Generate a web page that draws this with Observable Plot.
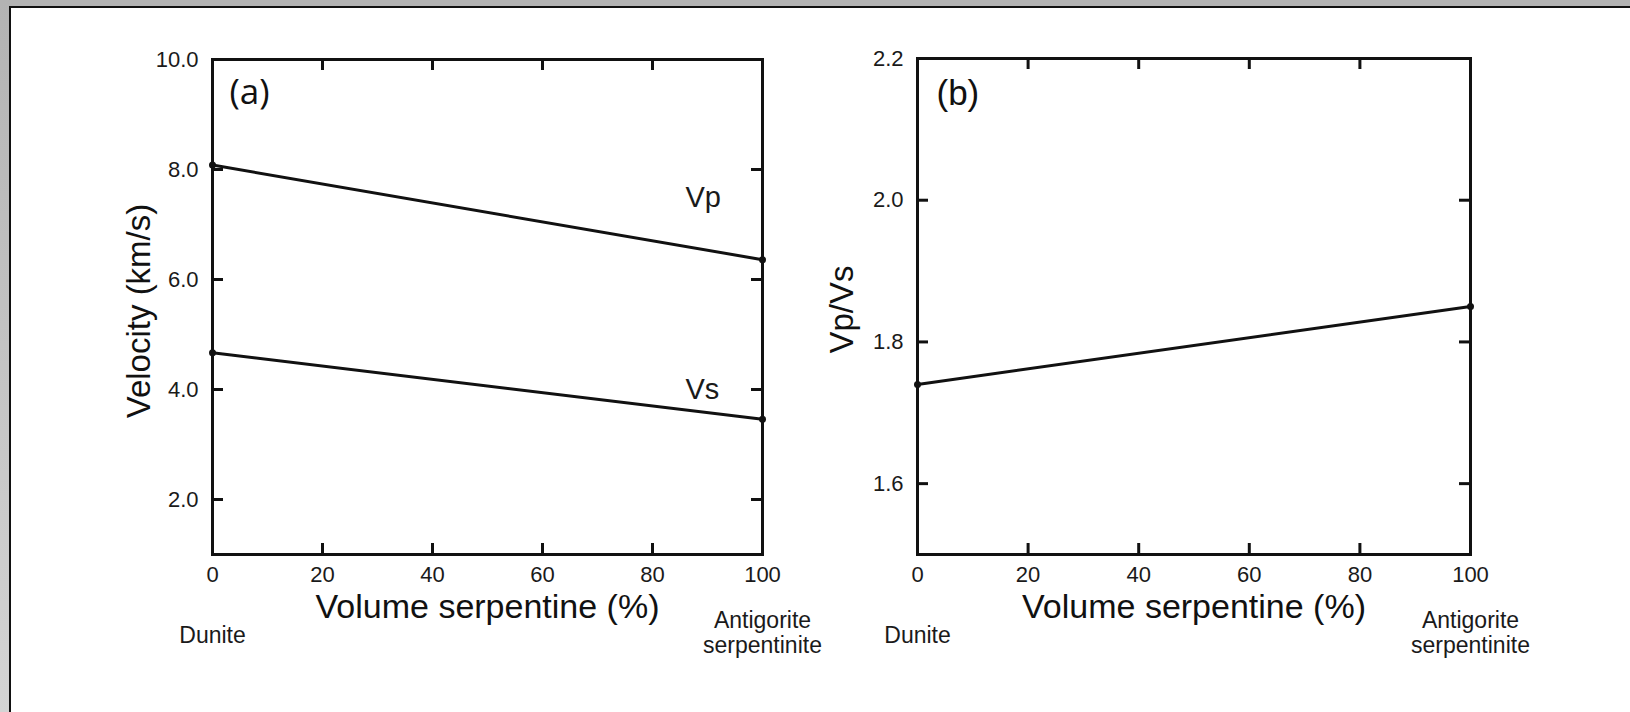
<!DOCTYPE html>
<html>
<head>
<meta charset="utf-8">
<script src="https://cdn.jsdelivr.net/npm/d3@7"></script>
<script src="https://cdn.jsdelivr.net/npm/@observablehq/plot@0.6"></script>
<style>
  html, body { margin: 0; padding: 0; width: 1630px; height: 712px; overflow: hidden; background: #fff; }
  #top { position: absolute; left: 0; top: 0; width: 1630px; height: 6px; background: #b3b3b3; }
  #strip { position: absolute; left: 0; top: 0; width: 9px; height: 712px; background: linear-gradient(#b3b3b3, #d4d4d4); }
  #hline { position: absolute; left: 9px; top: 6px; width: 1621px; height: 2px; background: #111; }
  #vline { position: absolute; left: 9px; top: 6px; width: 2px; height: 706px; background: #111; }
  #a, #b { position: absolute; top: 0; }
  #a { left: 0; }
  #b { left: 800px; }
</style>
</head>
<body>
<div id="top"></div>
<div id="strip"></div>
<div id="hline"></div>
<div id="vline"></div>
<div id="a"></div>
<div id="b"></div>
<script>
// ---- data ----
const serpentine = [0, 100];               // Volume serpentine (%)
const vp = [8.08, 6.36];                   // km/s
const vs = [4.67, 3.46];                   // km/s
const vpvs = [1.74, 1.85];                 // ratio
const xTickLabels = [0, 20, 40, 60, 80, 100];
const xInnerTicks = [20, 40, 60, 80];
const yTickLabelsA = [2, 4, 6, 8, 10];
const yInnerTicksA = [2, 4, 6, 8];
const yTickLabelsB = [1.6, 1.8, 2.0, 2.2];
const yInnerTicksB = [1.6, 1.8, 2.0];
const panelLabels = ["(a)", "(b)"];
const seriesNames = ["Vp", "Vs"];
const endMembers = ["Dunite", "Antigorite\nserpentinite"];
const xAxisLabel = "Volume serpentine (%)";
const yAxisLabelA = "Velocity (km/s)";
const yAxisLabelB = "Vp/Vs";

// ---- tables built from the arrays ----
const vpData = serpentine.map((x, i) => ({x, v: vp[i]}));
const vsData = serpentine.map((x, i) => ({x, v: vs[i]}));
const ratioData = serpentine.map((x, i) => ({x, v: vpvs[i]}));
const endData = serpentine.map((x, i) => ({x, t: endMembers[i]}));

const INK = "#111";
const FONT = "'Liberation Sans', Arial, Helvetica, sans-serif";
const TICK = 11;
const TICKFONT = 22;
const fmt1 = d3.format(".1f");

function panel({width, height, mL, mR, mT, mB, yDomain, yLabels, yInner, marks, yLabel, yLabelDx, yLabelDy, tag, tagFont, tagDx, tagDy}) {
  const fw = width - mL - mR, fh = height - mT - mB;
  return Plot.plot({
    width, height,
    marginLeft: mL, marginRight: mR, marginTop: mT, marginBottom: mB,
    x: {domain: [0, 100], axis: null},
    y: {domain: yDomain, axis: null},
    style: {background: "transparent", fontFamily: FONT, color: "#1a1a1a", overflow: "visible"},
    marks: [
      Plot.frame({stroke: INK, strokeWidth: 3}),
      // inward tick marks on all four sides
      Plot.tickY(yInner, {y: d => d, insetRight: fw - TICK, stroke: INK, strokeWidth: 3}),
      Plot.tickY(yInner, {y: d => d, insetLeft: fw - TICK, stroke: INK, strokeWidth: 3}),
      Plot.tickX(xInnerTicks, {x: d => d, insetBottom: fh - TICK, stroke: INK, strokeWidth: 3}),
      Plot.tickX(xInnerTicks, {x: d => d, insetTop: fh - TICK, stroke: INK, strokeWidth: 3}),
      // tick labels
      Plot.text(yLabels, {y: d => d, text: d => fmt1(d), frameAnchor: "left", textAnchor: "end", lineAnchor: "middle", dx: -14, fontSize: TICKFONT, fill: "#1a1a1a"}),
      Plot.text(xTickLabels, {x: d => d, text: d => String(d), frameAnchor: "bottom", textAnchor: "middle", lineAnchor: "bottom", dy: 27, fontSize: TICKFONT, fill: "#1a1a1a"}),
      ...marks,
      Plot.text([xAxisLabel], {text: d => d, frameAnchor: "bottom", textAnchor: "middle", dy: 63, lineAnchor: "bottom", fontSize: 34, fill: "#111"}),
      Plot.text([yLabel], {text: d => d, frameAnchor: "left", textAnchor: "middle", rotate: -90, dx: yLabelDx, dy: yLabelDy, lineAnchor: "bottom", fontSize: 33, fill: "#111"}),
      Plot.text([tag], {text: d => d, frameAnchor: "top-left", textAnchor: "start", lineAnchor: "bottom", dx: tagDx, dy: tagDy, fontSize: 35, fontFamily: tagFont, fill: "#111"}),
      Plot.text(endData.slice(0, 1), {x: "x", text: "t", frameAnchor: "bottom", textAnchor: "middle", dy: 88, lineAnchor: "bottom", fontSize: 23, fill: "#1a1a1a"}),
      Plot.text(endData.slice(1), {x: "x", text: "t", frameAnchor: "bottom", textAnchor: "middle", dy: 55.7, lineAnchor: "top", lineHeight: 1.087, fontSize: 23, fill: "#1a1a1a"})
    ]
  });
}

const plotA = panel({
  width: 800, height: 712, mL: 212, mR: 38, mT: 59, mB: 158,
  yDomain: [1, 10], yLabels: yTickLabelsA, yInner: yInnerTicksA,
  yLabel: yAxisLabelA, yLabelDx: -63, yLabelDy: 4,
  tag: panelLabels[0], tagFont: "'Open Sans', sans-serif", tagDx: 17, tagDy: 44,
  marks: [
    Plot.line(vpData, {x: "x", y: "v", stroke: INK, strokeWidth: 3}),
    Plot.line(vsData, {x: "x", y: "v", stroke: INK, strokeWidth: 3}),
    Plot.dot([...vpData, ...vsData], {x: "x", y: "v", r: 3.5, fill: INK, stroke: null}),
    Plot.text(vpData.slice(-1), {x: "x", y: "v", text: () => seriesNames[0], textAnchor: "start", lineAnchor: "bottom", dx: -77, dy: -53, fontSize: 29, fill: "#1a1a1a"}),
    Plot.text(vsData.slice(-1), {x: "x", y: "v", text: () => seriesNames[1], textAnchor: "start", lineAnchor: "bottom", dx: -77, dy: -20, fontSize: 29, fill: "#1a1a1a"})
  ]
});

const plotB = panel({
  width: 830, height: 712, mL: 117, mR: 160, mT: 58, mB: 158,
  yDomain: [1.5, 2.2], yLabels: yTickLabelsB, yInner: yInnerTicksB,
  yLabel: yAxisLabelB, yLabelDx: -65, yLabelDy: 3,
  tag: panelLabels[1], tagFont: FONT, tagDx: 19, tagDy: 46,
  marks: [
    Plot.line(ratioData, {x: "x", y: "v", stroke: INK, strokeWidth: 3}),
    Plot.dot(ratioData, {x: "x", y: "v", r: 3.5, fill: INK, stroke: null})
  ]
});

document.getElementById("a").appendChild(plotA);
document.getElementById("b").appendChild(plotB);
</script>
</body>
</html>
